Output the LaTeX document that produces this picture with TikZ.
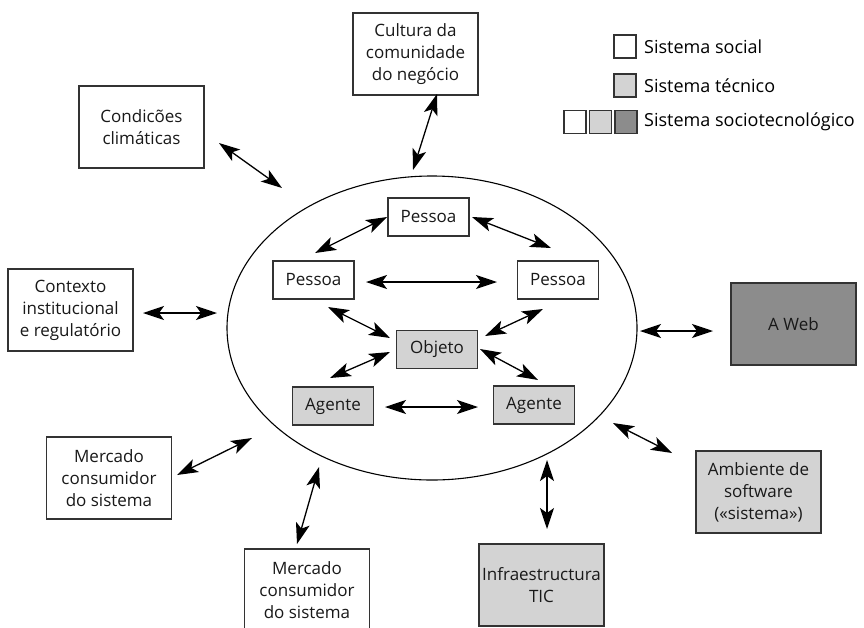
\documentclass[tikz,border=0pt]{standalone}
\usepackage{fontspec}
\setmainfont{Open Sans}
\usetikzlibrary{arrows.meta}

\definecolor{tecgray}{HTML}{D3D3D3}
\definecolor{sociogray}{HTML}{8C8C8C}
\definecolor{edgegray}{HTML}{333333}

\providecommand{\boxfontsize}{\fontsize{17}{22}\selectfont}
\providecommand{\keyfontsize}{\fontsize{18}{22}\selectfont}

\tikzset{
    box/.style={draw=edgegray,line width=1.2pt,align=center,inner sep=0pt,font=\boxfontsize,text=black!90},
    bigbox/.style={box,minimum width=125pt,minimum height=82pt},
    smallbox/.style={box,minimum width=81pt,minimum height=38pt},
    social/.style={fill=white},
    tecnico/.style={fill=tecgray},
    socio/.style={fill=sociogray},
    keybox/.style={draw=edgegray,line width=1.2pt,minimum width=22pt,minimum height=23pt,inner sep=0pt},
    keytext/.style={anchor=west,font=\keyfontsize,inner sep=0pt},
    link/.style={line width=1.3pt,{Stealth[length=21pt,width=14pt,inset=5pt]}-{Stealth[length=21pt,width=14pt,inset=5pt]}}
}

\begin{document}
\begin{tikzpicture}[x=1pt,y=-1pt]
    \useasboundingbox (0,0) rectangle (864,627);

    % sistema sociotecnologico
    \draw[line width=1.1pt] (432,328) ellipse (205 and 152);

    % ambiente externo
    \node[bigbox,social] (cultura) at (415.5,54) {Cultura da\\comunidade\\do negócio};
    \node[bigbox,social] (clima) at (141.5,127) {Condicões\\climáticas};
    \node[bigbox,social] (contexto) at (70.5,310) {Contexto\\institucional\\e regulatório};
    \node[bigbox,social] (mercadoA) at (109,478) {Mercado\\consumidor\\do sistema};
    \node[bigbox,social] (mercadoB) at (307,590) {Mercado\\consumidor\\do sistema};
    \node[bigbox,tecnico] (infra) at (541.5,585) {Infraestructura\\TIC};
    \node[bigbox,tecnico] (ambiente) at (758.5,492) {Ambiente de\\software\\(«sistema»)};
    \node[bigbox,socio] (web) at (793.5,324) {A Web};

    % dentro do sistema
    \node[smallbox,social] (pessoaT) at (428.5,217) {Pessoa};
    \node[smallbox,social] (pessoaL) at (313.5,280) {Pessoa};
    \node[smallbox,social] (pessoaR) at (558,280) {Pessoa};
    \node[smallbox,tecnico] (objeto) at (437,349.5) {Objeto};
    \node[smallbox,tecnico] (agenteL) at (333,406) {Agente};
    \node[smallbox,tecnico] (agenteR) at (534,405) {Agente};

    % legenda
    \node[keybox,fill=white] (keyA) at (625,46.5) {};
    \node[keybox,fill=tecgray] (keyB) at (625,85.5) {};
    \node[keybox,fill=sociogray] (keyC3) at (626,122) {};
    \node[keybox,fill=tecgray] (keyC2) at (600.5,122) {};
    \node[keybox,fill=white] (keyC1) at (575,122) {};
    \node[keytext] (keyAtext) at (644,46.5) {Sistema social};
    \node[keytext] (keyBtext) at (644,85.5) {Sistema técnico};
    \node[keytext] (keyCtext) at (644,122) {Sistema sociotecnológico};

    % pontas das setas
    \coordinate (culA) at (437,94);    \coordinate (culB) at (413,170);
    \coordinate (cliA) at (219,143);   \coordinate (cliB) at (282,188);
    \coordinate (conA) at (143,313);   \coordinate (conB) at (217,313);
    \coordinate (merA) at (177,475);   \coordinate (merB) at (252,438);
    \coordinate (mebA) at (297,544);   \coordinate (mebB) at (319,467);
    \coordinate (infA) at (547,529);   \coordinate (infB) at (547,460);
    \coordinate (ambA) at (672,453);   \coordinate (ambB) at (613,423);
    \coordinate (webA) at (713,331);   \coordinate (webB) at (640,331);

    \coordinate (plptA) at (315,253);  \coordinate (plptB) at (387,217);
    \coordinate (ptprA) at (472,217);  \coordinate (ptprB) at (551,248);
    \coordinate (plprA) at (366,282);  \coordinate (plprB) at (497,282);
    \coordinate (plobA) at (328,307);  \coordinate (plobB) at (390,338);
    \coordinate (alobA) at (330,378);  \coordinate (alobB) at (390,352);
    \coordinate (obprA) at (485,336);  \coordinate (obprB) at (543,309);
    \coordinate (obarA) at (480,349);  \coordinate (obarB) at (538,380);
    \coordinate (alarA) at (385,407);  \coordinate (alarB) at (478,407);

    \draw[link] (culA) -- (culB);
    \draw[link] (cliA) -- (cliB);
    \draw[link] (conA) -- (conB);
    \draw[link] (merA) -- (merB);
    \draw[link] (mebA) -- (mebB);
    \draw[link] (infA) -- (infB);
    \draw[link] (ambA) -- (ambB);
    \draw[link] (webA) -- (webB);

    \draw[link] (plptA) -- (plptB);
    \draw[link] (ptprA) -- (ptprB);
    \draw[link] (plprA) -- (plprB);
    \draw[link] (plobA) -- (plobB);
    \draw[link] (alobA) -- (alobB);
    \draw[link] (obprA) -- (obprB);
    \draw[link] (obarA) -- (obarB);
    \draw[link] (alarA) -- (alarB);
\end{tikzpicture}
\end{document}
